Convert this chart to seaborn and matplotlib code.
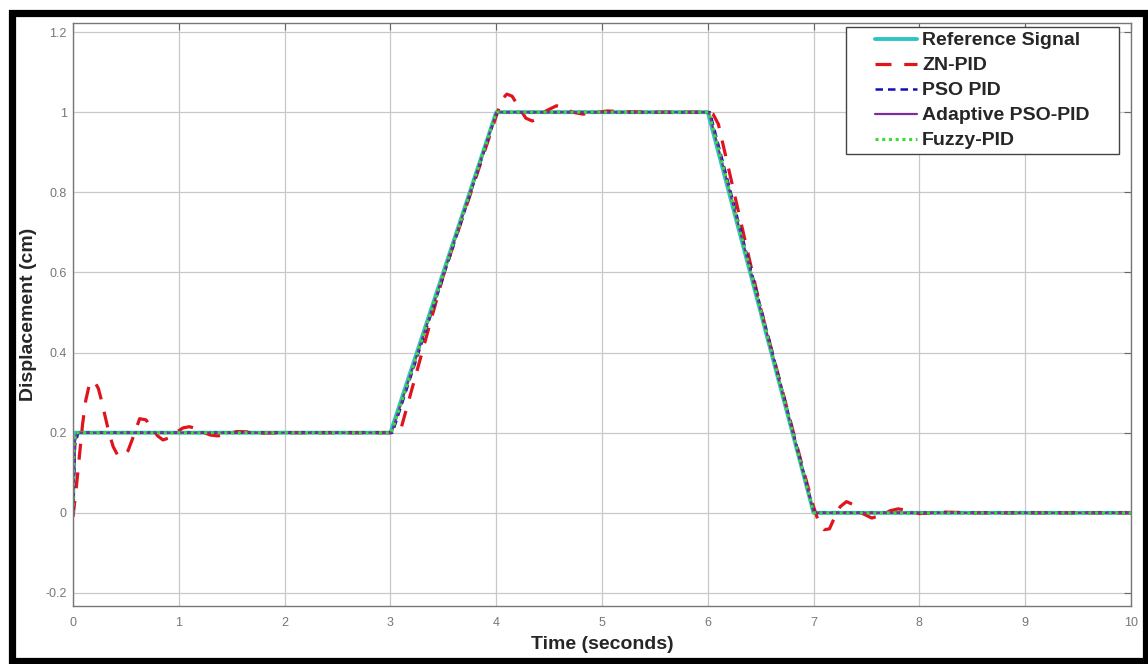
import matplotlib
matplotlib.use("Agg")
import matplotlib.pyplot as plt
import seaborn as sns
import pandas as pd
from matplotlib.patches import Rectangle
from matplotlib.lines import Line2D
from matplotlib.legend_handler import HandlerLine2D

# ---------------- data ----------------
ref_t = [0.0, 0.01, 3.0, 4.0, 6.0, 7.0, 10.0]
ref_y = [0.0, 0.2, 0.2, 1.0, 1.0, 0.0, 0.0]

zn_t = [0.0, 0.03, 0.06, 0.09, 0.12, 0.15, 0.18, 0.21, 0.24, 0.27, 0.30, 0.34,
        0.38, 0.42, 0.47, 0.52, 0.57, 0.63, 0.69, 0.75, 0.80, 0.85, 0.91, 0.97,
        1.04, 1.10, 1.17, 1.24, 1.30, 1.37, 1.45, 1.55, 1.65, 1.80, 2.00, 2.50,
        3.00, 3.05, 3.10, 3.50, 3.90, 4.00, 4.05, 4.10, 4.15, 4.22, 4.28, 4.34,
        4.40, 4.47, 4.57, 4.65, 4.72, 4.82, 4.92, 5.05, 5.20, 5.50, 6.00, 6.05,
        6.10, 6.50, 6.90, 7.00, 7.05, 7.10, 7.15, 7.20, 7.25, 7.31, 7.38, 7.45,
        7.55, 7.65, 7.72, 7.80, 7.90, 8.00, 8.20, 8.50, 10.0]
zn_y = [-0.01, 0.06, 0.14, 0.22, 0.28, 0.315, 0.33, 0.325, 0.31, 0.28, 0.245, 0.20,
        0.165, 0.145, 0.14, 0.155, 0.19, 0.235, 0.232, 0.21, 0.192, 0.182, 0.187, 0.20,
        0.212, 0.215, 0.21, 0.2, 0.194, 0.192, 0.196, 0.203, 0.202, 0.199, 0.2, 0.2,
        0.2, 0.2, 0.21, 0.592, 0.91, 0.99, 1.03, 1.045, 1.04, 1.01, 0.985, 0.978,
        0.985, 1.003, 1.016, 1.01, 1.0, 0.995, 0.998, 1.003, 1.001, 1.0, 1.0, 0.995,
        0.97, 0.51, 0.11, 0.015, -0.025, -0.042, -0.04, -0.01, 0.015, 0.028, 0.02, 0.0,
        -0.013, -0.005, 0.005, 0.01, 0.005, -0.002, 0.002, 0.0, 0.0]

pso_t = [0.0, 0.02, 0.05, 3.0, 3.02, 4.0, 4.02, 6.0, 6.02, 7.0, 7.02, 10.0]
pso_y = [0.0, 0.17, 0.2, 0.2, 0.2, 0.995, 1.0, 1.0, 1.0, 0.005, 0.0, 0.0]

apso_t = [0.0, 0.02, 0.04, 3.0, 3.01, 4.0, 4.01, 6.0, 6.01, 7.0, 7.01, 10.0]
apso_y = [0.0, 0.18, 0.2, 0.2, 0.2, 0.998, 1.0, 1.0, 1.0, 0.002, 0.0, 0.0]

fz_t = [0.0, 0.01, 0.03, 3.0, 3.01, 4.0, 4.01, 6.0, 6.01, 7.0, 7.01, 10.0]
fz_y = [0.0, 0.18, 0.2, 0.2, 0.2, 0.998, 1.0, 1.0, 1.0, 0.002, 0.0, 0.0]

x_ticks = [0, 1, 2, 3, 4, 5, 6, 7, 8, 9, 10]
y_ticks = [-0.2, 0, 0.2, 0.4, 0.6, 0.8, 1.0, 1.2]
y_tick_labels = ["-0.2", "0", "0.2", "0.4", "0.6", "0.8", "1", "1.2"]

# ---------------- style ----------------
sns.set_style("white")
plt.rcParams["font.family"] = ["Liberation Sans", "DejaVu Sans"]

W, H = 1148, 664
fig = plt.figure(figsize=(W / 100, H / 100), dpi=100)
ax = fig.add_axes([73 / W, (H - 606) / H, (1131 - 73) / W, (606 - 23) / H])

series = [
    ("Reference Signal", ref_t, ref_y, dict(color="#2EC4C4", linewidth=2.8, linestyle="-")),
    ("ZN-PID", zn_t, zn_y, dict(color="#E0141C", linewidth=2.3, linestyle=(0, (5, 4)))),
    ("PSO PID", pso_t, pso_y, dict(color="#1010B8", linewidth=1.8, linestyle=(0, (3, 2)))),
    ("Adaptive PSO-PID", apso_t, apso_y, dict(color="#7B2F9C", linewidth=1.6, linestyle="-")),
    ("Fuzzy-PID", fz_t, fz_y, dict(color="#3ADB3A", linewidth=2.2, linestyle=(0, (1, 1.2)))),
]

for name, t, y, kw in series:
    df = pd.DataFrame({"t": t, "y": y})
    sns.lineplot(data=df, x="t", y="y", ax=ax, label=name, estimator=None,
                 sort=False, **kw)

ax.set_xlim(0, 10)
ax.set_ylim(-0.2325, 1.2225)
ax.set_xticks(x_ticks)
ax.set_xticklabels([str(v) for v in x_ticks])
ax.set_yticks(y_ticks)
ax.set_yticklabels(y_tick_labels)
ax.grid(True, color="#C8C8C8", linewidth=0.9)
ax.set_axisbelow(True)
ax.tick_params(direction="in", length=5, width=0.8, colors="#666666",
               labelsize=9, top=True, right=True, labelcolor="#777777")
ax.tick_params(axis="x", pad=8)
ax.tick_params(axis="y", pad=4.5)
for s in ax.spines.values():
    s.set_visible(True)
    s.set_color("#777777")
    s.set_linewidth(1.0)

ax.set_xlabel("Time (seconds)", fontsize=14, fontweight="bold", labelpad=5)
ax.set_ylabel("Displacement (cm)", fontsize=14, fontweight="bold", labelpad=6)

top = (606 - 27) / 583
leg = ax.legend(loc="upper left",
                bbox_to_anchor=((846 - 73) / 1058, top - 0.01,
                                (1119 - 846) / 1058, 0.01),
                mode="expand", borderaxespad=0, fancybox=False, frameon=True,
                framealpha=1, prop={"weight": "bold", "size": 14},
                handlelength=3.4, handletextpad=0.26, labelspacing=0.38,
                borderpad=0.25, handler_map={Line2D: HandlerLine2D(xpad=1.24)})
leg.get_frame().set_edgecolor("#444444")
leg.get_frame().set_linewidth(1.0)

# black frame around the figure
fig.patches.append(Rectangle((11.5 / W, 3.5 / H), (1145.5 - 11.5) / W, (651.5 - 3.5) / H,
                             transform=fig.transFigure, fill=False,
                             edgecolor="black", linewidth=5.2))

fig.savefig("out.png", dpi=100)
